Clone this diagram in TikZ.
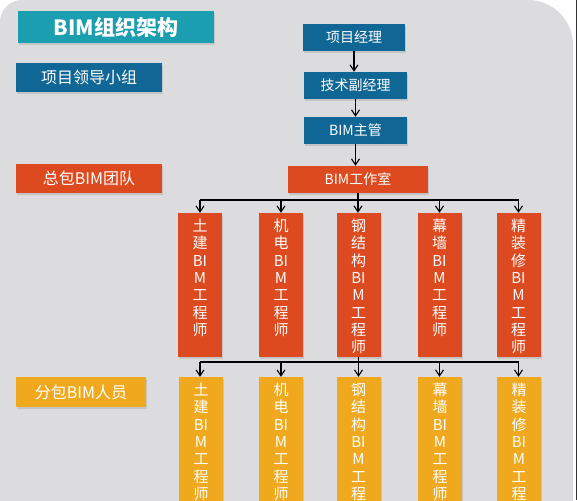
\documentclass[tikz,border=0pt]{standalone}
\usepackage{fontspec}
\setmainfont{Noto Sans CJK SC}
\usetikzlibrary{arrows.meta,shadows}
\definecolor{panelbg}{RGB}{220,220,223}
\definecolor{teal1}{RGB}{26,158,176}
\definecolor{navy1}{RGB}{16,103,150}
\definecolor{orange1}{RGB}{222,74,31}
\definecolor{amber1}{RGB}{240,169,30}
\tikzset{
  box/.style={inner sep=0pt, text=white, drop shadow={opacity=0.25, shadow xshift=1pt, shadow yshift=-2pt}},
  titlebox/.style={box, fill=teal1, minimum width=196pt, minimum height=32pt, font=\fontsize{21}{24}\selectfont\bfseries},
  legendbox/.style={box, minimum width=146pt, minimum height=29pt, font=\fontsize{16}{19}\selectfont},
  topbox/.style={box, fill=navy1, minimum height=27pt, font=\fontsize{14}{17}\selectfont},
  colbox/.style={box, minimum width=44pt},
  coltext/.style={text=white, align=center, inner sep=0pt, anchor=north, font=\fontsize{15}{17.3}\selectfont},
  arr/.style={-{Straight Barb[length=6pt,width=8pt]}, line width=1.1pt, black},
  bus/.style={line width=1.1pt, black}
}
\begin{document}
\begin{tikzpicture}[x=1pt,y=-1pt]
\useasboundingbox (0,0) rectangle (577,500);
\clip (0,0) rectangle (577,500);
\fill[white] (0,0) rectangle (577,500);
\fill[panelbg] (0,520) -- (0,22) arc[start angle=180, end angle=270, radius=22]
  -- (528,0) arc[start angle=270, end angle=360, radius=45] -- (573,520) -- cycle;
\draw[gray!40!black, line width=1pt] (576,0) -- (576,500);

% legend boxes
\node[titlebox] (title) at (116,27) {BIM组织架构};
\node[legendbox, fill=navy1] (lead) at (89,77.5) {项目领导小组};
\node[legendbox, fill=orange1] (zb) at (89,178.5) {总包BIM团队};
\node[legendbox, fill=amber1, minimum width=130pt, minimum height=30pt] (fb) at (81,392) {分包BIM人员};

% top chain
\node[topbox, minimum width=102pt] (pm) at (354,37.5) {项目经理};
\node[topbox, minimum width=103pt] (tm) at (355.5,85.5) {技术副经理};
\node[topbox, minimum width=103pt] (mgr) at (355.5,130.5) {BIM主管};
\node[topbox, fill=orange1, minimum width=140pt] (studio) at (358,179.5) {BIM工作室};

\draw[arr] (pm) -- (pm |- tm.north);
\draw[arr] (tm) -- (tm |- mgr.north);
\draw[arr] (mgr) -- (mgr |- studio.north);

% orange columns
\foreach \n/\x in {o1/200,o2/281,o3/358.5,o4/439.5,o5/518.5}
  \node[colbox, fill=orange1, minimum height=144pt] (\n) at (\x,285) {};
\node[coltext] (to1) at ([yshift=-6pt]o1.north) {土\\建\\BI\\M\\工\\程\\师};
\node[coltext] (to2) at ([yshift=-6pt]o2.north) {机\\电\\BI\\M\\工\\程\\师};
\node[coltext] (to3) at ([yshift=-6pt]o3.north) {钢\\结\\构\\BI\\M\\工\\程\\师};
\node[coltext] (to4) at ([yshift=-6pt]o4.north) {幕\\墙\\BI\\M\\工\\程\\师};
\node[coltext] (to5) at ([yshift=-6pt]o5.north) {精\\装\\修\\BI\\M\\工\\程\\师};

% yellow columns
\foreach \n/\x in {y1/201,y2/281,y3/358.5,y4/440,y5/519}
  \node[colbox, fill=amber1, minimum height=150pt] (\n) at (\x,452) {};
\node[coltext] (ty1) at ([yshift=-6pt]y1.north) {土\\建\\BI\\M\\工\\程\\师};
\node[coltext] (ty2) at ([yshift=-6pt]y2.north) {机\\电\\BI\\M\\工\\程\\师};
\node[coltext] (ty3) at ([yshift=-6pt]y3.north) {钢\\结\\构\\BI\\M\\工\\程\\师};
\node[coltext] (ty4) at ([yshift=-6pt]y4.north) {幕\\墙\\BI\\M\\工\\程\\师};
\node[coltext] (ty5) at ([yshift=-6pt]y5.north) {精\\装\\修\\BI\\M\\工\\程\\师};

% bus 1
\coordinate (bus1) at (0,200);
\draw[bus] (o1.north |- bus1) -- (o5.north |- bus1);
\draw[arr] (studio.south) -- (studio.south |- o3.north);
\foreach \n in {o1,o2,o4,o5}
  \draw[arr] (\n.north |- bus1) -- (\n.north);

% bus 2
\coordinate (bus2) at (0,362);
\draw[bus] (o1.south |- bus2) -- (o5.south |- bus2);
\draw[arr] (o3.south) -- (o3.south |- y3.north);
\foreach \n in {o1,o2,o4,o5}
  \draw[arr] (\n.south |- bus2) -- (\n.south |- y1.north);
\end{tikzpicture}
\end{document}
